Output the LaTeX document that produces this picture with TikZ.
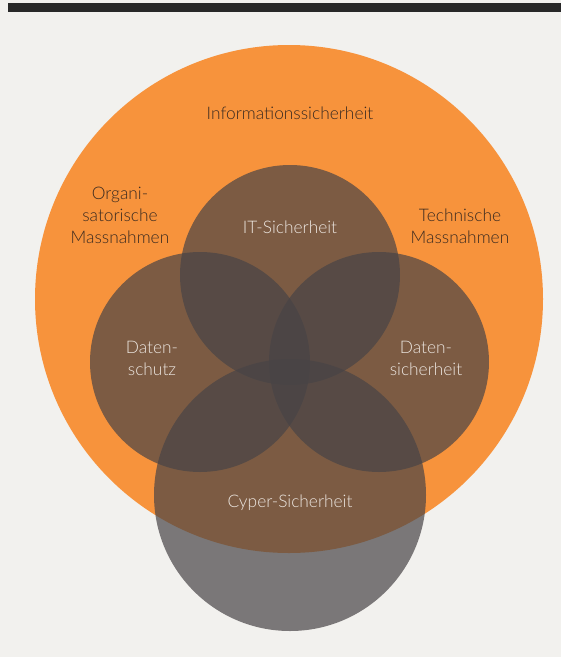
\documentclass[tikz,border=0pt]{standalone}
\usepackage{fontspec}
\setmainfont{Lato}[UprightFont={* Light}]
\usetikzlibrary{positioning}

\definecolor{paper}{RGB}{242,241,238}
\definecolor{topbar}{RGB}{40,40,40}
\definecolor{infoOrange}{RGB}{247,147,60}
\definecolor{discGray}{RGB}{72,68,70}
\definecolor{darkText}{RGB}{58,42,32}
\definecolor{lightText}{RGB}{236,230,224}

\tikzset{
    disc/.style={fill=discGray, fill opacity=0.7},
    outertext/.style={text=darkText, align=center, inner sep=0pt, font=\fontsize{13}{16.5}\selectfont},
    innertext/.style={text=lightText, align=center, inner sep=0pt, font=\fontsize{13}{16.5}\selectfont},
}

\begin{document}
\begin{tikzpicture}[x=0.75pt,y=0.75pt,yscale=-1,xscale=1]
        % page and top rule
        \fill[paper] (0,0) rectangle (561,657);
        \useasboundingbox (0,0) rectangle (561,657);
        \fill[topbar] (8,3) rectangle (561,12);
        % big circle
        \fill[infoOrange] (289,299) circle (254);
        % the four discs
        \fill[disc] (290,275) circle (110);
        \fill[disc] (200,362) circle (110);
        \fill[disc] (379,362) circle (110);
        \fill[disc] (290,495) circle (136);
        % labels
        \node[outertext] (info) at (290,113) {Informationssicherheit};
        \node[outertext] (orga) at (120,215) {Organi-\\satorische\\Massnahmen};
        \node[outertext] (tech) at (460,226) {Technische\\Massnahmen};
        \node[innertext] (itsec) at (290,227) {IT-Sicherheit};
        \node[innertext] (dschutz) at (152,358) {Daten-\\schutz};
        \node[innertext] (dsicher) at (426,358) {Daten-\\sicherheit};
        \node[innertext] (cyber) at (290,503) {Cyper-Sicherheit};
    \end{tikzpicture}
\end{document}
